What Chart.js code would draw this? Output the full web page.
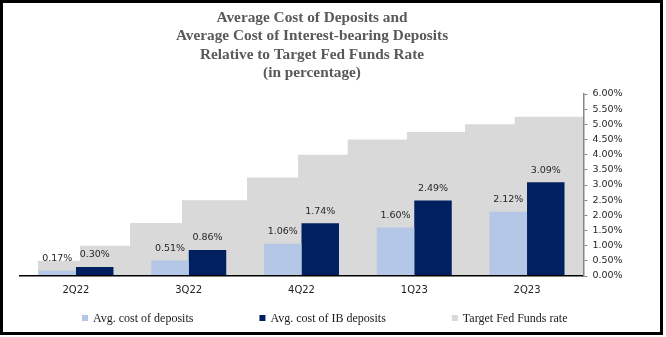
<!DOCTYPE html>
<html>
<head>
<meta charset="utf-8">
<script src="https://cdn.jsdelivr.net/npm/chart.js@4.4.0/dist/chart.umd.min.js"></script>
<style>
    html, body { margin: 0; padding: 0; background: #fff; }
    #wrap { position: relative; width: 666px; height: 337px; }
</style>
</head>
<body>
<div id="wrap"><canvas id="chart" width="666" height="337"></canvas></div>
<script>
// Dados do gráfico
const titleLines = [
    'Average Cost of Deposits and',
    'Average Cost of Interest-bearing Deposits',
    'Relative to Target Fed Funds Rate',
    '(in percentage)'
];
const quarters = ['2Q22', '3Q22', '4Q22', '1Q23', '2Q23'];
const avgCostDeposits = [0.17, 0.51, 1.06, 1.60, 2.12];
const avgCostIBDeposits = [0.30, 0.86, 1.74, 2.49, 3.09];
// posição de cada mudança da taxa, em unidades de trimestre (0 = início de 2Q22)
const fedRateChangeAt = [0.163, 0.536, 0.979, 1.44, 2.017, 2.47, 2.91, 3.435, 3.95, 4.39, 5];
const fedRateValues = [0.50, 1.00, 1.75, 2.50, 3.25, 4.00, 4.50, 4.75, 5.00, 5.25, 5.25];
const yTicksMax = 6;
const yTicksStep = 0.5;

const COLORS = {
    deposits: '#b4c7e7',
    ibDeposits: '#002060',
    fedRate: '#d9d9d9'
};

const tickFont = { family: 'DejaVu Sans', size: 9.5 };

// cada trimestre ocupa uma unidade no eixo x; a barra fica no meio
const toPoints = (values) => values.map((v, i) => ({ x: i + 0.5, y: v }));

const decorPlugin = {
    id: 'decor',
    afterDraw(chart) {
        const ctx = chart.ctx;
        ctx.save();

        // rótulos de valor acima das barras
        ctx.font = '9.5px "DejaVu Sans"';
        ctx.fillStyle = '#262626';
        ctx.textAlign = 'center';
        ctx.textBaseline = 'middle';
        [0, 1].forEach(di => {
            const meta = chart.getDatasetMeta(di);
            const values = chart.data.datasets[di].data;
            meta.data.forEach((bar, i) => {
                ctx.fillText(values[i].y.toFixed(2) + '%', bar.x, bar.y - 12);
            });
        });

        // título
        ctx.font = 'bold 15.3px "Liberation Serif"';
        ctx.fillStyle = '#595959';
        titleLines.forEach((line, i) => {
            ctx.fillText(line, 312, 18 + i * 18.5);
        });

        // legenda
        ctx.font = '12px "Liberation Serif"';
        ctx.textAlign = 'left';
        let x = 82;
        chart.data.datasets.forEach(ds => {
            ctx.fillStyle = ds.backgroundColor;
            ctx.fillRect(x, 315, 6, 6);
            ctx.fillStyle = '#1a1a1a';
            ctx.fillText(ds.label, x + 11, 318.5);
            x += 11 + ctx.measureText(ds.label).width + 66;
        });

        // moldura
        ctx.strokeStyle = '#000';
        ctx.lineWidth = 3;
        ctx.strokeRect(1.5, 1.5, 660, 332);

        ctx.restore();
    }
};

const ctx = document.getElementById('chart').getContext('2d');
new Chart(ctx, {
    type: 'bar',
    data: {
        datasets: [
            {
                label: 'Avg. cost of deposits',
                data: toPoints(avgCostDeposits),
                backgroundColor: COLORS.deposits,
                order: 0
            },
            {
                label: 'Avg. cost of IB deposits',
                data: toPoints(avgCostIBDeposits),
                backgroundColor: COLORS.ibDeposits,
                order: 0
            },
            {
                type: 'line',
                label: 'Target Fed Funds rate',
                data: fedRateChangeAt.map((p, i) => ({ x: p, y: fedRateValues[i] })),
                stepped: true,
                fill: 'origin',
                backgroundColor: COLORS.fedRate,
                borderWidth: 0,
                pointRadius: 0,
                order: 1
            }
        ]
    },
    options: {
        responsive: false,
        animation: false,
        devicePixelRatio: 1,
        layout: { padding: { left: 19.6, top: 94, right: 0, bottom: 0 } },
        datasets: {
            bar: { categoryPercentage: 0.665, barPercentage: 1 }
        },
        plugins: {
            legend: { display: false },
            title: { display: false },
            tooltip: { enabled: false }
        },
        scales: {
            x: {
                type: 'linear',
                min: 0,
                max: quarters.length,
                offset: false,
                grid: { display: true, offset: false, drawOnChartArea: false, drawTicks: false },
                // a linha do eixo fica por cima da área cinza
                border: { display: true, color: '#000', width: 1.5, z: 1 },
                afterBuildTicks: (axis) => {
                    axis.ticks = quarters.map((q, i) => ({ value: i + 0.5 }));
                },
                ticks: {
                    font: { family: 'DejaVu Sans', size: 10 },
                    color: '#222',
                    padding: 8,
                    maxRotation: 0,
                    autoSkip: false,
                    callback: (value, index) => quarters[index]
                },
                afterFit: (scale) => { scale.height = 61; }
            },
            y: {
                position: 'right',
                min: 0,
                max: yTicksMax,
                grid: { display: true, drawOnChartArea: false, drawTicks: true, tickLength: 4, color: '#868686' },
                border: { display: true, color: '#868686', width: 1.5, z: 1 },
                ticks: {
                    stepSize: yTicksStep,
                    font: tickFont,
                    color: '#262626',
                    padding: 5,
                    callback: (v) => v.toFixed(2) + '%'
                },
                afterFit: (scale) => { scale.width = 82.6; }
            }
        }
    },
    plugins: [decorPlugin]
});
</script>
</body>
</html>
